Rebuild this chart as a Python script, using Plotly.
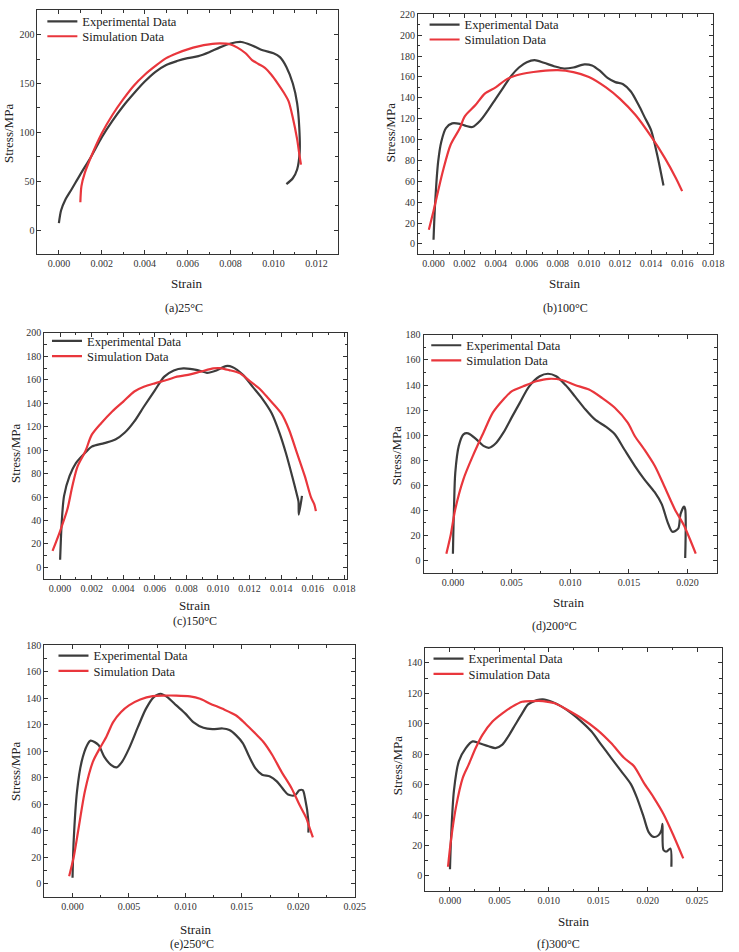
import plotly.graph_objects as go

# ---------------- data ----------------
a_exp_x = [0.0000, 0.0001, 0.0003, 0.0006, 0.0010, 0.0015, 0.0020, 0.0025, 0.0030, 0.0035, 0.0040, 0.0045, 0.0050,
           0.0055, 0.0060, 0.0065, 0.0070, 0.0075, 0.0080, 0.0085, 0.0090, 0.0095, 0.0100, 0.0103, 0.0106, 0.0109,
           0.0111, 0.0112, 0.01122, 0.0111, 0.0109, 0.0106]
a_exp_y = [7, 20, 31, 42, 57, 75, 95, 112, 127, 140, 152, 162, 169, 173, 176, 178, 182, 187, 191, 192.5, 189, 184,
           181, 177, 167, 150, 130, 105, 80, 62, 53, 47]
a_sim_x = [0.0010, 0.00105, 0.0012, 0.0015, 0.0020, 0.0025, 0.0030, 0.0035, 0.0040, 0.0045, 0.0050, 0.0055, 0.0060,
           0.0065, 0.0070, 0.0075, 0.0080, 0.0083, 0.0087, 0.0090, 0.0093, 0.0096, 0.0099, 0.0102, 0.0105, 0.0107,
           0.0109, 0.0111, 0.0112, 0.01128]
a_sim_y = [28.5, 45, 58, 75, 99, 118, 134, 148, 159, 168, 176, 181, 185, 188, 190, 191, 190, 187, 181, 174, 170, 166,
           159, 150, 140, 132, 115, 93, 78, 67]

b_exp_x = [0.0000, 0.0001, 0.0003, 0.0005, 0.0008, 0.0012, 0.0017, 0.0021, 0.0025, 0.0030, 0.0035, 0.0040, 0.0045,
           0.0050, 0.0055, 0.0060, 0.0065, 0.0071, 0.0078, 0.0084, 0.0090, 0.0097, 0.0102, 0.0107, 0.0112, 0.0117,
           0.0122, 0.0127, 0.0132, 0.0136, 0.0140, 0.0144, 0.0148]
b_exp_y = [4, 38, 79, 98, 111, 115.5, 115, 113, 112, 118, 128, 139, 150, 161, 169, 174, 176, 173.5, 170, 168, 169,
           172, 171, 166, 159, 155, 153, 146, 133, 121, 109, 85, 56]
b_sim_x = [-0.0003, 0.0000, 0.0006, 0.0011, 0.0017, 0.0020, 0.0027, 0.0033, 0.0040, 0.0046, 0.0052, 0.0060, 0.0069,
           0.0080, 0.0090, 0.0100, 0.0111, 0.0120, 0.0130, 0.0140, 0.0149, 0.0156, 0.0160]
b_sim_y = [13.6, 31.6, 69.6, 95, 111, 122, 133, 144, 150, 156.7, 160.8, 163.7, 165.6, 166.5, 164.6, 160, 150, 139,
           123.5, 103, 82, 63, 50.6]

c_exp_x = [0.0000, 0.0001, 0.00025, 0.0006, 0.0010, 0.0016, 0.0020, 0.0028, 0.0035, 0.0041, 0.0047, 0.0053, 0.0060,
           0.0066, 0.0072, 0.0078, 0.0087, 0.0093, 0.0099, 0.0105, 0.0109, 0.0116, 0.0122, 0.0128, 0.0134, 0.0139,
           0.0143, 0.0147, 0.0150, 0.0151, 0.01512, 0.01532]
c_exp_y = [6.5, 38, 61, 78, 89, 98, 103, 106, 109, 115, 124.5, 137, 151, 162.7, 168, 169.7, 168.3, 166, 168, 171.7,
           171, 164, 154, 144, 131.5, 114.6, 97.6, 77.8, 62, 56, 45, 61]
c_sim_x = [-0.00048, 0.0000, 0.00046, 0.00077, 0.0011, 0.0016, 0.0020, 0.0026, 0.0033, 0.0040, 0.0047, 0.0053,
           0.0060, 0.0068, 0.0074, 0.0080, 0.0089, 0.0097, 0.0101, 0.0107, 0.0114, 0.0120, 0.0126, 0.0132, 0.0140,
           0.0145, 0.0150, 0.0155, 0.0159, 0.0161, 0.0162]
c_sim_y = [14, 31, 49.5, 69, 86, 99, 113, 123, 133, 141.4, 150, 154, 157, 160, 162.7, 164, 167, 169.7, 170, 168.3,
           165.5, 159, 152.8, 144, 131.5, 117.4, 97.6, 77.8, 59.4, 53.7, 48]

d_exp_x = [0.0000, 0.00003, 0.0001, 0.0002, 0.0005, 0.0009, 0.0013, 0.0020, 0.0026, 0.0031, 0.0037, 0.0043, 0.0050,
           0.0057, 0.0065, 0.0074, 0.0081, 0.0088, 0.0096, 0.0104, 0.0113, 0.0121, 0.0130, 0.0138, 0.0146, 0.0155,
           0.0163, 0.0172, 0.0178, 0.0183, 0.0187, 0.0192, 0.0194, 0.0197, 0.0198, 0.0198]
d_exp_y = [5.5, 20, 45, 70, 91.5, 100.7, 101.5, 96.7, 91.5, 90, 94, 102, 114, 125.8, 139, 147, 149, 147, 140, 131,
           120.5, 112.6, 107, 100.7, 88.8, 75.6, 65, 54.5, 45, 30.7, 23, 25.4, 37, 43, 41, 2]
d_sim_x = [-0.00056, -0.0002, 0.0002, 0.0009, 0.0017, 0.0026, 0.0034, 0.0043, 0.0050, 0.0060, 0.0071, 0.0082,
           0.0093, 0.0104, 0.0116, 0.0127, 0.0138, 0.0149, 0.0155, 0.0163, 0.0172, 0.0180, 0.0189, 0.0197, 0.0203,
           0.0207]
d_sim_y = [5.5, 20, 41, 65, 83.5, 102, 118, 128.5, 135, 139, 143, 145, 144, 140, 136.4, 129.8, 121.9, 110, 99.4,
           88.8, 75.6, 59.7, 41.2, 28, 14.8, 5.5]

e_exp_x = [0.0000, 0.0001, 0.0004, 0.0008, 0.0013, 0.0016, 0.0023, 0.0028, 0.0034, 0.0039, 0.0044, 0.0050, 0.0058,
           0.0065, 0.0072, 0.0078, 0.0084, 0.0092, 0.0100, 0.0107, 0.0116, 0.0124, 0.0133, 0.0139, 0.0145, 0.0151,
           0.0156, 0.0162, 0.0168, 0.0175, 0.0181, 0.0187, 0.0191, 0.0197, 0.0201, 0.0204, 0.0206, 0.0209, 0.0209]
e_exp_y = [4.5, 32.4, 70, 92, 104.7, 108, 104.7, 96, 89.8, 87.8, 92.2, 102, 118.4, 132, 140.9, 143.4, 140.9, 134.6,
           128.4, 122, 117.7, 116.7, 117.2, 116, 112, 106, 97, 87.3, 82.3, 81, 77.3, 71, 67.3, 66.8, 70.6, 70.6,
           64.8, 47.4, 38.6]
e_sim_x = [-0.0003, 0.0001, 0.0005, 0.0011, 0.0018, 0.0024, 0.0030, 0.0036, 0.0043, 0.0050, 0.0060, 0.0071, 0.0081,
           0.0092, 0.0104, 0.0113, 0.0122, 0.0133, 0.0145, 0.0153, 0.0162, 0.0169, 0.0177, 0.0185, 0.0194, 0.0201,
           0.0207, 0.0210, 0.0213]
e_sim_y = [5.7, 20, 40, 70, 92, 102, 111, 122, 129.6, 134.6, 139, 141.6, 142, 142, 141.4, 139.6, 135.9, 132, 127,
           121, 113.4, 107.2, 97.2, 84.8, 72.3, 59.8, 49.9, 42.4, 35]

f_exp_x = [0.0000, 0.0001, 0.0004, 0.0009, 0.0016, 0.0023, 0.0029, 0.0039, 0.0046, 0.0053, 0.0059, 0.0066, 0.0073,
           0.0079, 0.0088, 0.0094, 0.0103, 0.0113, 0.0123, 0.0133, 0.0143, 0.0153, 0.0163, 0.0173, 0.0183, 0.0189,
           0.0196, 0.0201, 0.0206, 0.0211, 0.0214, 0.0215, 0.0216, 0.0219, 0.0223, 0.0224]
f_exp_y = [4.3, 23.4, 56, 75.4, 84, 88.4, 87.3, 85.2, 84, 86.3, 91.7, 99.3, 106.8, 112.7, 115.5, 116, 114.4, 111.2,
           106.8, 101.4, 95, 86.3, 77.6, 69, 60.3, 51.6, 38.6, 28.8, 25.6, 26.7, 30, 34.2, 17, 16, 18, 6]
f_sim_x = [-0.0002, 0.0001, 0.0006, 0.0013, 0.0019, 0.0026, 0.0033, 0.0043, 0.0053, 0.0063, 0.0073, 0.0083, 0.0094,
           0.0106, 0.0119, 0.0133, 0.0149, 0.0163, 0.0176, 0.0186, 0.0196, 0.0206, 0.0216, 0.0226, 0.0236]
f_sim_y = [6, 23.4, 45, 64.6, 73.3, 84, 92.8, 101.4, 106.8, 111.2, 114.4, 114.9, 114.9, 113.4, 109, 103.6, 96, 87.3,
           77.6, 72.2, 61.3, 51.6, 40.7, 26.7, 11.5]

captions = ["(a)25°C", "(b)100°C", "(c)150°C", "(d)200°C", "(e)250°C", "(f)300°C"]
series_names = ["Experimental Data", "Simulation Data"]

# ---------------- layout helpers ----------------
W, H = 739, 952
FONT = "Liberation Serif"
EXP_COLOR = "#3c3c3c"
SIM_COLOR = "#e9363c"
AXIS_COLOR = "#333333"

panels = [
    # frame (l, r, t, b) px; legend (line-left, row1-centre, row2-centre)
    dict(frame=(38, 343, 4.3, 250), xr=[-0.001, 0.013], xd=0.002, yr=[-25, 225], yd=50,
         exp=(a_exp_x, a_exp_y), sim=(a_sim_x, a_sim_y), leg=(47, 20.7, 35.7),
         cap=(187, 304), xt=(190, 279), yt=(8, 128)),
    dict(frame=(424.3, 724, 8.3, 250), xr=[-0.001, 0.018], xd=0.002, yr=[-10, 220], yd=20,
         exp=(b_exp_x, b_exp_y), sim=(b_sim_x, b_sim_y), leg=(435, 24, 39),
         cap=(574, 304), xt=(574, 279), yt=(396, 128)),
    dict(frame=(45, 352.7, 329, 576.7), xr=[-0.001, 0.0182], xd=0.002, yr=[-10, 200], yd=20,
         exp=(c_exp_x, c_exp_y), sim=(c_sim_x, c_sim_y), leg=(51.7, 342.3, 357.7),
         cap=(198, 619), xt=(198, 603), yt=(15, 450)),
    dict(frame=(430, 727.7, 331, 570.7), xr=[-0.0025, 0.0225], xd=0.005, yr=[-10, 180], yd=20,
         exp=(d_exp_x, d_exp_y), sim=(d_sim_x, d_sim_y), leg=(436.7, 346.7, 362),
         cap=(563, 624), xt=(578, 600), yt=(402, 453)),
    dict(frame=(45, 360, 643.3, 896.7), xr=[-0.0025, 0.025], xd=0.005, yr=[-10, 180], yd=20,
         exp=(e_exp_x, e_exp_y), sim=(e_sim_x, e_sim_y), leg=(58.3, 659, 674.3),
         cap=(195, 944), xt=(199, 929), yt=(15, 770)),
    dict(frame=(431.7, 732.7, 645.7, 890.7), xr=[-0.0025, 0.0275], xd=0.005, yr=[-10, 150], yd=20,
         exp=(f_exp_x, f_exp_y), sim=(f_sim_x, f_sim_y), leg=(439, 662, 677.3),
         cap=(567, 944), xt=(583, 921), yt=(403, 765)),
]

fig = go.Figure()
annotations = []
layout = dict(
    width=W, height=H, margin=dict(l=0, r=0, t=0, b=0),
    paper_bgcolor="white", plot_bgcolor="white",
    font=dict(family=FONT, color="#222222"),
    showlegend=True,
)

for i, p in enumerate(panels):
    n = "" if i == 0 else str(i + 1)
    xa, ya = "x" + n, "y" + n
    l, r, t, b = p["frame"]
    axis_common = dict(
        showline=True, linecolor=AXIS_COLOR, linewidth=1, mirror="allticks",
        ticks="inside", ticklen=4, tickcolor=AXIS_COLOR, tickwidth=1,
        showgrid=False, zeroline=False,
        tickfont=dict(family=FONT, size=10, color="#333333"),
    )
    layout["xaxis" + n] = dict(
        axis_common, domain=[l / W, r / W], range=p["xr"], dtick=p["xd"], tick0=0,
        tickformat=".3f", anchor=ya,
        minor=dict(ticks="inside", ticklen=2.5, tickcolor=AXIS_COLOR, dtick=p["xd"] / 2, tick0=0),
    )
    layout["yaxis" + n] = dict(
        axis_common, domain=[1 - b / H, 1 - t / H], range=p["yr"], dtick=p["yd"], tick0=0,
        anchor=xa,
        minor=dict(ticks="inside", ticklen=2.5, tickcolor=AXIS_COLOR, dtick=p["yd"] / 2, tick0=0),
    )
    lx, r1, r2 = p["leg"]
    leg_names = []
    for k, rc in enumerate((r1, r2)):
        idx = 2 * i + k + 1
        lname = "legend" if idx == 1 else "legend" + str(idx)
        leg_names.append(lname)
        layout[lname] = dict(
            x=(lx - 4) / W, y=1 - (rc - 20) / H, xanchor="left", yanchor="top",
            bgcolor="rgba(0,0,0,0)", borderwidth=0,
            font=dict(family=FONT, size=12.5, color="#222222"),
            itemwidth=30,
        )
    ex, ey = p["exp"]
    sx, sy = p["sim"]
    fig.add_trace(go.Scatter(x=ex, y=ey, mode="lines", name=series_names[0], xaxis=xa, yaxis=ya,
                             line=dict(color=EXP_COLOR, width=2.2, shape="spline", smoothing=0.8),
                             legend=leg_names[0]))
    fig.add_trace(go.Scatter(x=sx, y=sy, mode="lines", name=series_names[1], xaxis=xa, yaxis=ya,
                             line=dict(color=SIM_COLOR, width=2.2, shape="spline", smoothing=0.8),
                             legend=leg_names[1]))
    # axis titles and caption
    cx, cy = p["xt"]
    annotations.append(dict(text="Strain", x=cx / W, y=1 - cy / H, xref="paper", yref="paper",
                            showarrow=False, xanchor="center", yanchor="middle",
                            font=dict(family=FONT, size=13, color="#222222")))
    tx, ty = p["yt"]
    annotations.append(dict(text="Stress/MPa", x=tx / W, y=1 - ty / H, xref="paper", yref="paper",
                            showarrow=False, xanchor="center", yanchor="middle", textangle=-90,
                            font=dict(family=FONT, size=13, color="#222222")))
    qx, qy = p["cap"]
    annotations.append(dict(text=captions[i], x=qx / W, y=1 - qy / H, xref="paper", yref="paper",
                            showarrow=False, xanchor="center", yanchor="middle",
                            font=dict(family=FONT, size=12, color="#222222")))

layout["annotations"] = annotations
fig.update_layout(**layout)
fig.write_html("out.html")
